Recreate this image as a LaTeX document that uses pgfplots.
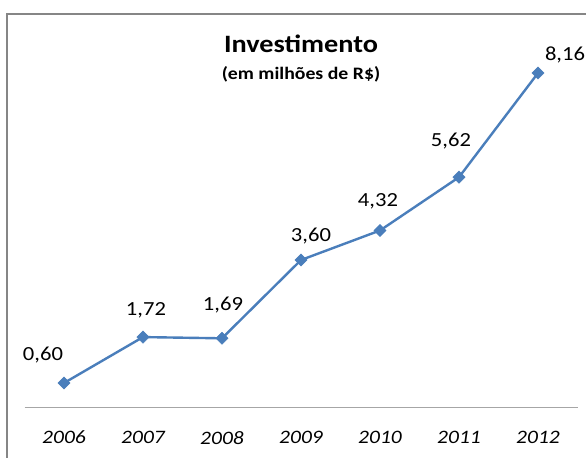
\documentclass[border=0pt]{standalone}
\usepackage{fontspec}
\setmainfont{Carlito}[FakeStretch=1.13]
\usepackage{pgfplots}
\pgfplotsset{compat=1.18}
\definecolor{serie}{RGB}{74,126,187}
\definecolor{eixo}{RGB}{166,166,166}
\definecolor{moldura}{RGB}{134,134,134}

% ano (0 = 2006), valor, deslocamento do rótulo
\pgfplotstableread{
x y dx dy
0 0.60 -21 28
1 1.72 3 27
2 1.69 1 33
3 3.60 10 24
4 4.32 -2 29
5 5.62 -8 36
6 8.16 27 18
}\investimento

\begin{document}
\begin{tikzpicture}
\useasboundingbox (0,0) rectangle (586bp,458bp);
\fill[white] (0,0) rectangle (586bp,458bp);
\draw[moldura,line width=2.5bp] (7bp,-10bp) -- (7bp,444bp) -- (600bp,444bp);
\node[anchor=base,font=\fontsize{25bp}{28bp}\selectfont\bfseries] at (301bp,405bp) {Investimento};
\node[anchor=base,font=\fontsize{17.5bp}{20bp}\selectfont\bfseries] at (301bp,378bp) {(em milhões de R\$)};
\begin{axis}[
 scale only axis, width=553bp, height=369bp,
 at={(24.5bp,50.4bp)}, anchor=south west,
 xmin=-0.5, xmax=6.5, ymin=0, ymax=9,
 axis y line=none, axis x line*=bottom,
 x axis line style={eixo,line width=1.2bp,-},
 xtick={0,...,6}, major tick length=0pt,
 xticklabels={2006,2007,2008,2009,2010,2011,2012},
 xticklabel style={font=\fontsize{19bp}{22bp}\selectfont\itshape,anchor=center,yshift=-30bp},
 clip=false,
 /pgf/number format/assume math mode=true,
 nodes near coords,
 point meta=y,
 nodes near coords style={text=black,font=\fontsize{20bp}{23bp}\selectfont,anchor=center,
   xshift=\dx bp,yshift=\dy bp,
   /pgf/number format/.cd,fixed,fixed zerofill,precision=2,use comma},
]
\addplot[serie,line width=2.4bp,mark=square*,mark size=4.3bp,
 mark options={rotate=45,fill=serie,draw=serie,line width=0.5bp},
 visualization depends on={\thisrow{dx}\as\dx},
 visualization depends on={\thisrow{dy}\as\dy}]
 table[x=x,y=y] {\investimento};
\end{axis}
\end{tikzpicture}
\end{document}
